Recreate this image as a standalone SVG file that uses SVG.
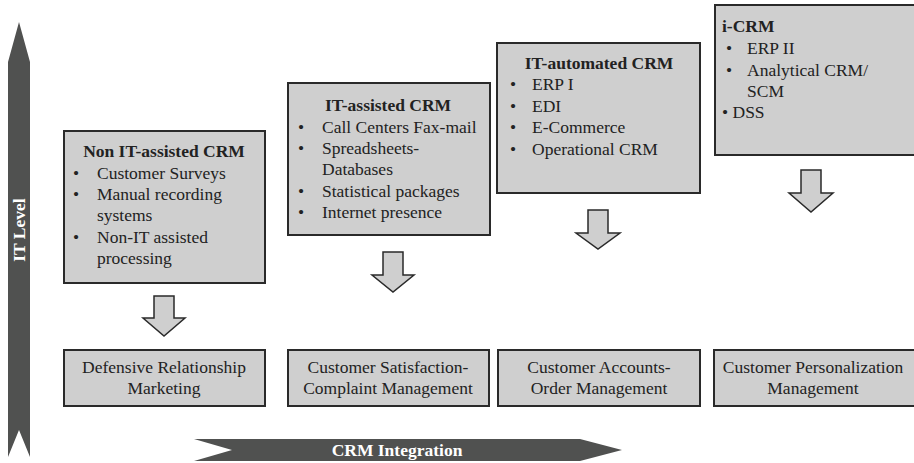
<svg xmlns="http://www.w3.org/2000/svg" width="914" height="463" viewBox="0 0 914 463">
<style>
.box{fill:#cfcfcf;stroke:#2a2a2a;stroke-width:2}
.arr{fill:#cfcfcf;stroke:#2a2a2a;stroke-width:1.5;stroke-linejoin:miter}
.band{fill:#505150}
text{font-family:"Liberation Serif","Times New Roman",serif;font-size:17.5px;fill:#222}
.t{font-weight:bold}
.c{text-anchor:middle}
.w{fill:#ffffff;font-weight:bold}
</style>
<rect width="914" height="463" fill="#ffffff"/>
<g id="it-level">
<polygon class="band" points="19,22 30,62 30,457 19,430 8,457 8,62"/>
<text class="w c" transform="translate(25,230) rotate(-90)">IT Level</text>
</g>
<g id="crm-integration">
<polygon class="band" points="194,439 580,439 622,450 580,461 194,461 232,450"/>
<text class="w c" x="397" y="456">CRM Integration</text>
</g>
<g id="non-it">
<rect class="box" x="64" y="131" width="201" height="152"/>
<text class="t c" x="164" y="157">Non IT-assisted CRM</text>
<text x="73" y="179">•</text><text x="97" y="179">Customer Surveys</text>
<text x="73" y="200">•</text><text x="97" y="200">Manual recording</text>
<text x="97" y="221">systems</text>
<text x="73" y="243">•</text><text x="97" y="243">Non-IT assisted</text>
<text x="97" y="264">processing</text>
</g>
<g id="it-assisted">
<rect class="box" x="288" y="83" width="202" height="152"/>
<text class="t c" x="388" y="111">IT-assisted CRM</text>
<text x="298" y="133">•</text><text x="322" y="133">Call Centers Fax-mail</text>
<text x="298" y="154">•</text><text x="322" y="154">Spreadsheets-</text>
<text x="322" y="175">Databases</text>
<text x="298" y="197">•</text><text x="322" y="197">Statistical packages</text>
<text x="298" y="218">•</text><text x="322" y="218">Internet presence</text>
</g>
<g id="it-automated">
<rect class="box" x="497" y="43" width="203" height="150"/>
<text class="t c" x="599" y="69">IT-automated CRM</text>
<text x="510" y="90">•</text><text x="532" y="90">ERP I</text>
<text x="510" y="112">•</text><text x="532" y="112">EDI</text>
<text x="510" y="133">•</text><text x="532" y="133">E-Commerce</text>
<text x="510" y="155">•</text><text x="532" y="155">Operational CRM</text>
</g>
<g id="i-crm">
<rect class="box" x="715" y="5" width="200" height="150"/>
<text class="t" x="722" y="32">i-CRM</text>
<text x="726" y="54">•</text><text x="747" y="54">ERP II</text>
<text x="726" y="76">•</text><text x="747" y="76">Analytical CRM/</text>
<text x="747" y="97">SCM</text>
<text x="722" y="118">• DSS</text>
</g>
<g id="defensive">
<rect class="box" x="64" y="350" width="201" height="56"/>
<text class="c" x="164" y="373">Defensive Relationship</text>
<text class="c" x="164" y="394">Marketing</text>
</g>
<g id="satisfaction">
<rect class="box" x="288" y="350" width="201" height="56"/>
<text class="c" x="388" y="373">Customer Satisfaction-</text>
<text class="c" x="388" y="394">Complaint Management</text>
</g>
<g id="accounts">
<rect class="box" x="498" y="350" width="202" height="56"/>
<text class="c" x="599" y="373">Customer Accounts-</text>
<text class="c" x="599" y="394">Order Management</text>
</g>
<g id="personalization">
<rect class="box" x="714" y="350" width="201" height="56"/>
<text class="c" x="813" y="373">Customer Personalization</text>
<text class="c" x="813" y="394">Management</text>
</g>
<g id="connectors">
<polygon class="arr" points="154,296 174,296 174,318 185,318 164,336 143,318 154,318"/>
<polygon class="arr" points="383,252 403,252 403,275 414,275 393,292 372,275 383,275"/>
<polygon class="arr" points="588,210 608,210 608,233 620,233 598,249 576,233 588,233"/>
<polygon class="arr" points="801,170 821,170 821,193 833,193 811,212 789,193 801,193"/>
</g>
</svg>
